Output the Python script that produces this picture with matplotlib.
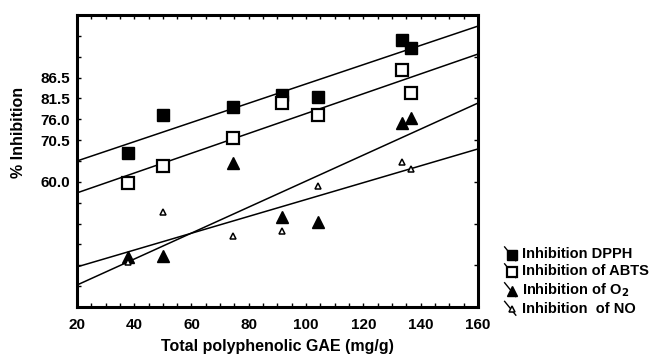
import numpy as np
import matplotlib
matplotlib.use("Agg")
import matplotlib.pyplot as plt
from matplotlib.lines import Line2D
from matplotlib.legend_handler import HandlerLine2D

plt.rcParams['font.family'] = ['Liberation Sans', 'DejaVu Sans']
plt.rcParams['font.weight'] = 'bold'

# x = total polyphenolic content (mg/g GAE) of the extracts
gae = [38, 50, 74.5, 91.6, 104, 133.5, 136.6]

# y values are in axis tick units (0 = bottom, 14 = top)
dpph = [7.38, 9.21, 9.59, 10.16, 10.07, 12.80, 12.42]
abts = [5.95, 6.76, 8.10, 9.78, 9.21, 11.36, 10.26]
o2 = [2.40, 2.45, 6.90, 4.32, 4.08, 8.82, 9.06]
no = [2.16, 4.55, 3.40, 3.64, 5.80, 6.95, 6.62]

# fitted lines, value at x=20 and x=160
fit_x = [20, 160]
fit_dpph = [7.00, 13.47]
fit_abts = [5.47, 12.13]
fit_o2 = [1.05, 9.78]
fit_no = [1.92, 7.58]

ytick_pos = [11, 10, 9, 8, 6]
ytick_lab = ['86.5', '81.5', '76.0', '70.5', '60.0']
xticks = [20, 40, 60, 80, 100, 120, 140, 160]

labels = ['Inhibition DPPH', 'Inhibition of ABTS', 'Inhibition of O$_2$', 'Inhibition  of NO']


class DiagHandler(HandlerLine2D):
    # legend key: a short diagonal line with the marker sitting on its lower end
    def create_artists(self, legend, orig_handle, xdescent, ydescent,
                       width, height, fontsize, trans):
        x0 = -xdescent
        y0 = -ydescent
        w = width
        ln = Line2D([x0, x0 + w * 0.9], [y0 + height * 1.1, y0 - height * 0.25],
                    color='black', lw=1.0, transform=trans)
        mk = Line2D([x0 + w * 0.62], [y0 + height * 0.32],
                    marker=orig_handle.get_marker(),
                    markersize=orig_handle.get_markersize() * 0.85,
                    markerfacecolor=orig_handle.get_markerfacecolor(),
                    markeredgecolor='black',
                    markeredgewidth=orig_handle.get_markeredgewidth(),
                    linestyle='none', transform=trans)
        return [ln, mk]


fig = plt.figure(figsize=(6.57, 3.58), dpi=100)
ax = fig.add_axes([0.117, 0.1425, 0.6106, 0.8155])

for fy in [fit_dpph, fit_abts, fit_o2, fit_no]:
    ax.plot(fit_x, fy, color='black', lw=1.1, zorder=2)

h1, = ax.plot(gae, dpph, 's', ms=9, mfc='black', mec='black', mew=1, zorder=3)
h2, = ax.plot(gae, abts, 's', ms=8, mfc='white', mec='black', mew=1.6, zorder=3)
h3, = ax.plot(gae, o2, '^', ms=9, mfc='black', mec='black', mew=1, zorder=3)
h4, = ax.plot(gae, no, '^', ms=5, mfc='white', mec='black', mew=1.1, zorder=3)

ax.set_xlim(20, 160)
ax.set_ylim(0, 14)
ax.set_xticks(xticks)
ax.set_xticks(np.arange(20, 161, 5), minor=True)
ax.set_yticks(ytick_pos)
ax.set_yticklabels(ytick_lab)
ax.set_yticks(np.arange(0, 15, 1), minor=True)

ax.tick_params(axis='both', which='both', direction='in', top=True, right=False,
               labelsize=11, width=1, length=3, pad=8)
ax.tick_params(axis='y', which='major', length=3, pad=5)
for lab in ax.get_xticklabels() + ax.get_yticklabels():
    lab.set_fontweight('bold')

sec = ax.secondary_yaxis('right')
sec.set_yticks(np.arange(0, 15, 2))
sec.tick_params(direction='in', length=3, width=1, labelright=False)
sec.spines['right'].set_visible(False)

for sp in ax.spines.values():
    sp.set_linewidth(2.2)

ax.set_xlabel('Total polyphenolic GAE (mg/g)', fontsize=11.5, fontweight='bold', labelpad=5)
fig.text(19 / 657, 1 - 132 / 358, '% Inhibition', rotation=90, fontsize=11.5,
         fontweight='bold', ha='center', va='center')

fig.legend([h1, h2, h3, h4], labels, loc='upper left',
           bbox_to_anchor=(0.757, 0.33), frameon=False,
           handlelength=0.85, handletextpad=0.35, labelspacing=0.2,
           borderpad=0, prop={'weight': 'bold', 'size': 10.5},
           handler_map={Line2D: DiagHandler()})

fig.savefig('out.png', dpi=100)
